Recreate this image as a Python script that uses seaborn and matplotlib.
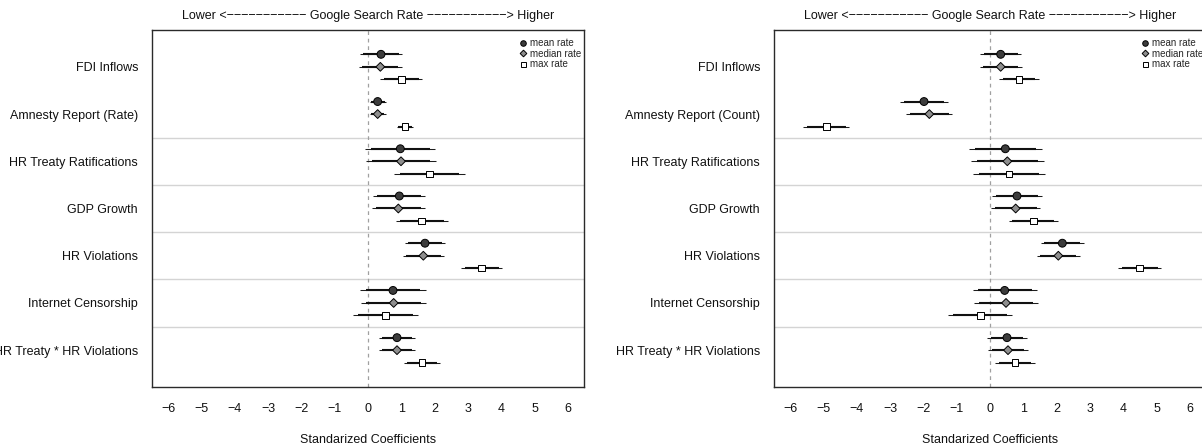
import numpy as np
import pandas as pd
import matplotlib
matplotlib.use("Agg")
import matplotlib.pyplot as plt
from matplotlib.lines import Line2D
import seaborn as sns

# ---- data -------------------------------------------------------------
left_terms = ["FDI Inflows", "Amnesty Report (Rate)", "HR Treaty Ratifications",
              "GDP Growth", "HR Violations", "Internet Censorship",
              "HR Treaty * HR Violations"]
right_terms = ["FDI Inflows", "Amnesty Report (Count)", "HR Treaty Ratifications",
               "GDP Growth", "HR Violations", "Internet Censorship",
               "HR Treaty * HR Violations"]

stat_names = ["mean rate", "median rate", "max rate"]

# standardized coefficients and standard errors, left model
left_mean_est = [0.39, 0.29, 0.97, 0.94, 1.71, 0.75, 0.87]
left_mean_se = [0.32, 0.125, 0.535, 0.40, 0.31, 0.50, 0.27]
left_median_est = [0.37, 0.29, 0.99, 0.91, 1.66, 0.77, 0.87]
left_median_se = [0.33, 0.12, 0.535, 0.41, 0.315, 0.50, 0.27]
left_max_est = [1.00, 1.11, 1.85, 1.61, 3.41, 0.52, 1.62]
left_max_se = [0.32, 0.13, 0.54, 0.40, 0.31, 0.50, 0.28]

# standardized coefficients and standard errors, right model
right_mean_est = [0.32, -1.98, 0.46, 0.81, 2.17, 0.44, 0.51]
right_mean_se = [0.31, 0.36, 0.56, 0.38, 0.33, 0.49, 0.30]
right_median_est = [0.32, -1.82, 0.52, 0.77, 2.05, 0.48, 0.54]
right_median_se = [0.32, 0.35, 0.56, 0.38, 0.33, 0.485, 0.30]
right_max_est = [0.87, -4.91, 0.57, 1.30, 4.49, -0.29, 0.75]
right_max_se = [0.30, 0.35, 0.55, 0.38, 0.33, 0.49, 0.30]

x_ticks = [-6, -5, -4, -3, -2, -1, 0, 1, 2, 3, 4, 5, 6]

# ---- styling ----------------------------------------------------------
sns.set_theme(style="white")
plt.rcParams["font.family"] = ["Liberation Sans", "DejaVu Sans"]
plt.rcParams["axes.unicode_minus"] = True

FS = 9
marker_of = {"mean rate": "o", "median rate": "D", "max rate": "s"}
size_of = {"mean rate": 32, "median rate": 20, "max rate": 22}
fill_of = {"mean rate": "#3c3c3c", "median rate": "#8e8e8e", "max rate": "#ffffff"}
offset_of = {"mean rate": -0.265, "median rate": 0.0, "max rate": 0.265}
Z90, Z95 = 1.645, 1.96


def build_frame(terms, ests, ses):
    rows = []
    for stat, est, se in zip(stat_names, ests, ses):
        for i, (t, e, s) in enumerate(zip(terms, est, se)):
            rows.append({"term": t, "stat": stat, "est": e, "se": s,
                         "ypos": i + offset_of[stat]})
    return pd.DataFrame(rows)


left_df = build_frame(left_terms,
                      [left_mean_est, left_median_est, left_max_est],
                      [left_mean_se, left_median_se, left_max_se])
right_df = build_frame(right_terms,
                       [right_mean_est, right_median_est, right_max_est],
                       [right_mean_se, right_median_se, right_max_se])

W, H = 1202, 447
fig = plt.figure(figsize=(W / 100, H / 100), dpi=100)
ax_w, ax_h = 432 / W, 357 / H
ax_b = (H - 387) / H
axes = [fig.add_axes([152 / W, ax_b, ax_w, ax_h]),
        fig.add_axes([774 / W, ax_b, ax_w, ax_h])]

title = "Lower <" + "\u2212" * 11 + " Google Search Rate " + "\u2212" * 11 + "> Higher"

for ax, df, terms in zip(axes, [left_df, right_df], [left_terms, right_terms]):
    n = len(terms)
    # separators between term groups
    for yb in np.arange(1.5, n - 1, 1.0):
        ax.axhline(yb, color="#d4d4d4", lw=1.0, zorder=1)
    ax.axvline(0, color="#a0a0a0", lw=0.9, ls=(0, (3, 3)), zorder=1)

    # 95% (thin) and 90% (thick) intervals
    ax.hlines(df["ypos"], df["est"] - Z95 * df["se"], df["est"] + Z95 * df["se"],
              color="#1e1e1e", lw=0.75, zorder=2)
    ax.hlines(df["ypos"], df["est"] - Z90 * df["se"], df["est"] + Z90 * df["se"],
              color="#111111", lw=1.5, zorder=3)

    sns.scatterplot(data=df, x="est", y="ypos", hue="stat", style="stat",
                    size="stat", markers=marker_of, palette=fill_of,
                    sizes=size_of, edgecolor="black", linewidth=0.7,
                    legend=False, zorder=4, ax=ax)

    ax.set_xlim(-6.48, 6.48)
    ax.set_ylim(n - 1 + 0.78, -0.78)
    ax.set_xticks(x_ticks)
    ax.set_xticklabels([str(v).replace("-", "\u2212") for v in x_ticks], fontsize=FS)
    ax.set_yticks(range(n))
    ax.set_yticklabels(terms, fontsize=FS)
    ax.tick_params(axis="both", direction="out", length=5.5, width=0.9,
                   color="#222222", labelcolor="#111111")
    ax.tick_params(axis="x", pad=6)
    ax.tick_params(axis="y", pad=4.5)
    ax.set_xlabel("Standarized Coefficients", fontsize=FS, labelpad=14, color="#111111")
    ax.set_ylabel("")
    ax.set_title(title, fontsize=FS, pad=8, color="#111111")
    for sp in ax.spines.values():
        sp.set_visible(True)
        sp.set_color("#2a2a2a")
        sp.set_linewidth(1.0)

    handles = [Line2D([], [], ls="none", marker=marker_of[s],
                      markersize={"mean rate": 4.0, "median rate": 3.4, "max rate": 3.6}[s],
                      markerfacecolor=fill_of[s], markeredgecolor="black",
                      markeredgewidth=0.7) for s in stat_names]
    ax.legend(handles, stat_names, loc="upper left", bbox_to_anchor=(0.848, 0.977),
              frameon=False, fontsize=7, handlelength=0.9, handletextpad=0.25,
              borderpad=0, borderaxespad=0, labelspacing=0.05)

fig.savefig("out.png", dpi=100)
